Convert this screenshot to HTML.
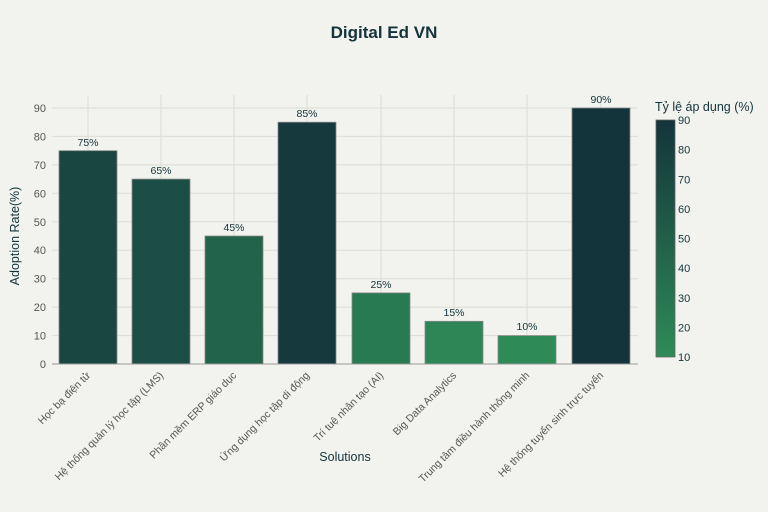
<!DOCTYPE html>
<html><head><meta charset="utf-8"><style>
html,body{margin:0;padding:0;background:#f2f2ee;}
svg{display:block;font-family:"Liberation Sans","DejaVu Sans",sans-serif;}
</style></head><body>
<svg width="768" height="512" viewBox="0 0 768 512" xmlns="http://www.w3.org/2000/svg">
<defs>
<linearGradient id="cb" x1="0" y1="1" x2="0" y2="0">
<stop offset="0" stop-color="#2e8b57"/><stop offset="1" stop-color="#13343b"/>
</linearGradient>
</defs>
<rect width="768" height="512" fill="#f2f2ee"/>
<text x="384" y="38" text-anchor="middle" font-size="17" font-weight="bold" fill="#13343b">Digital Ed VN</text>
<g stroke="#dcdcd6" stroke-width="1">
<line x1="52" x2="638" y1="335.6" y2="335.6"/><line x1="52" x2="638" y1="307.1" y2="307.1"/>
<line x1="52" x2="638" y1="278.7" y2="278.7"/><line x1="52" x2="638" y1="250.2" y2="250.2"/>
<line x1="52" x2="638" y1="221.8" y2="221.8"/><line x1="52" x2="638" y1="193.3" y2="193.3"/>
<line x1="52" x2="638" y1="164.9" y2="164.9"/><line x1="52" x2="638" y1="136.4" y2="136.4"/>
<line x1="52" x2="638" y1="108" y2="108"/>
<line x1="88" x2="88" y1="95" y2="364"/><line x1="161" x2="161" y1="95" y2="364"/>
<line x1="234" x2="234" y1="95" y2="364"/><line x1="307" x2="307" y1="95" y2="364"/>
<line x1="381" x2="381" y1="95" y2="364"/><line x1="454" x2="454" y1="95" y2="364"/>
<line x1="527" x2="527" y1="95" y2="364"/><line x1="601" x2="601" y1="95" y2="364"/>
</g>
<g font-size="11" fill="#555" text-anchor="end">
<text x="46" y="368">0</text><text x="46" y="339.6">10</text><text x="46" y="311.1">20</text>
<text x="46" y="282.7">30</text><text x="46" y="254.2">40</text><text x="46" y="225.8">50</text>
<text x="46" y="197.3">60</text><text x="46" y="168.9">70</text><text x="46" y="140.4">80</text>
<text x="46" y="112">90</text>
</g>
<g stroke="#888" stroke-width="0.8">
<rect x="59" y="150.7" width="58" height="213.3" fill="#1a4641"/>
<rect x="132" y="179.1" width="58" height="184.9" fill="#1c4e45"/>
<rect x="205" y="236" width="58" height="128" fill="#22644b"/>
<rect x="278" y="122.2" width="58" height="241.8" fill="#16393e"/>
<rect x="352" y="292.9" width="58" height="71.1" fill="#287a52"/>
<rect x="425" y="321.3" width="58" height="42.7" fill="#2c8655"/>
<rect x="498" y="335.6" width="58" height="28.4" fill="#2e8b57"/>
<rect x="572" y="108" width="58" height="256" fill="#13343b"/>
</g>
<line x1="52" x2="638" y1="364" y2="364" stroke="#999" stroke-width="1"/>
<g font-size="10.5" fill="#13343b" text-anchor="middle">
<text x="88" y="146">75%</text><text x="161" y="174">65%</text><text x="234" y="231">45%</text>
<text x="307" y="117">85%</text><text x="381" y="288">25%</text><text x="454" y="316">15%</text>
<text x="527" y="330">10%</text><text x="601" y="103">90%</text>
</g>
<g font-size="10.5" fill="#555" text-anchor="end">
<text transform="translate(91,376) rotate(-45)">Học bạ điện tử</text>
<text transform="translate(164,376) rotate(-45)">Hệ thống quản lý học tập (LMS)</text>
<text transform="translate(237,376) rotate(-45)">Phần mềm ERP giáo dục</text>
<text transform="translate(310,376) rotate(-45)">Ứng dụng học tập di động</text>
<text transform="translate(384,376) rotate(-45)">Trí tuệ nhân tạo (AI)</text>
<text transform="translate(457,376) rotate(-45)">Big Data Analytics</text>
<text transform="translate(530,376) rotate(-45)">Trung tâm điều hành thông minh</text>
<text transform="translate(604,376) rotate(-45)">Hệ thống tuyển sinh trực tuyến</text>
</g>
<text x="345" y="461" text-anchor="middle" font-size="12.5" fill="#13343b">Solutions</text>
<text transform="translate(19,236) rotate(-90)" text-anchor="middle" font-size="12.5" fill="#13343b">Adoption Rate(%)</text>
<text x="655" y="111" font-size="12.5" fill="#13343b">Tỷ lệ áp dụng (%)</text>
<rect x="656" y="120" width="19" height="237" fill="url(#cb)" stroke="#666" stroke-width="0.8"/>
<g font-size="11" fill="#13343b">
<text x="678" y="361">10</text><text x="678" y="331.4">20</text><text x="678" y="301.8">30</text>
<text x="678" y="272.1">40</text><text x="678" y="242.5">50</text><text x="678" y="212.9">60</text>
<text x="678" y="183.3">70</text><text x="678" y="153.6">80</text><text x="678" y="124">90</text>
</g>
</svg>
</body></html>
